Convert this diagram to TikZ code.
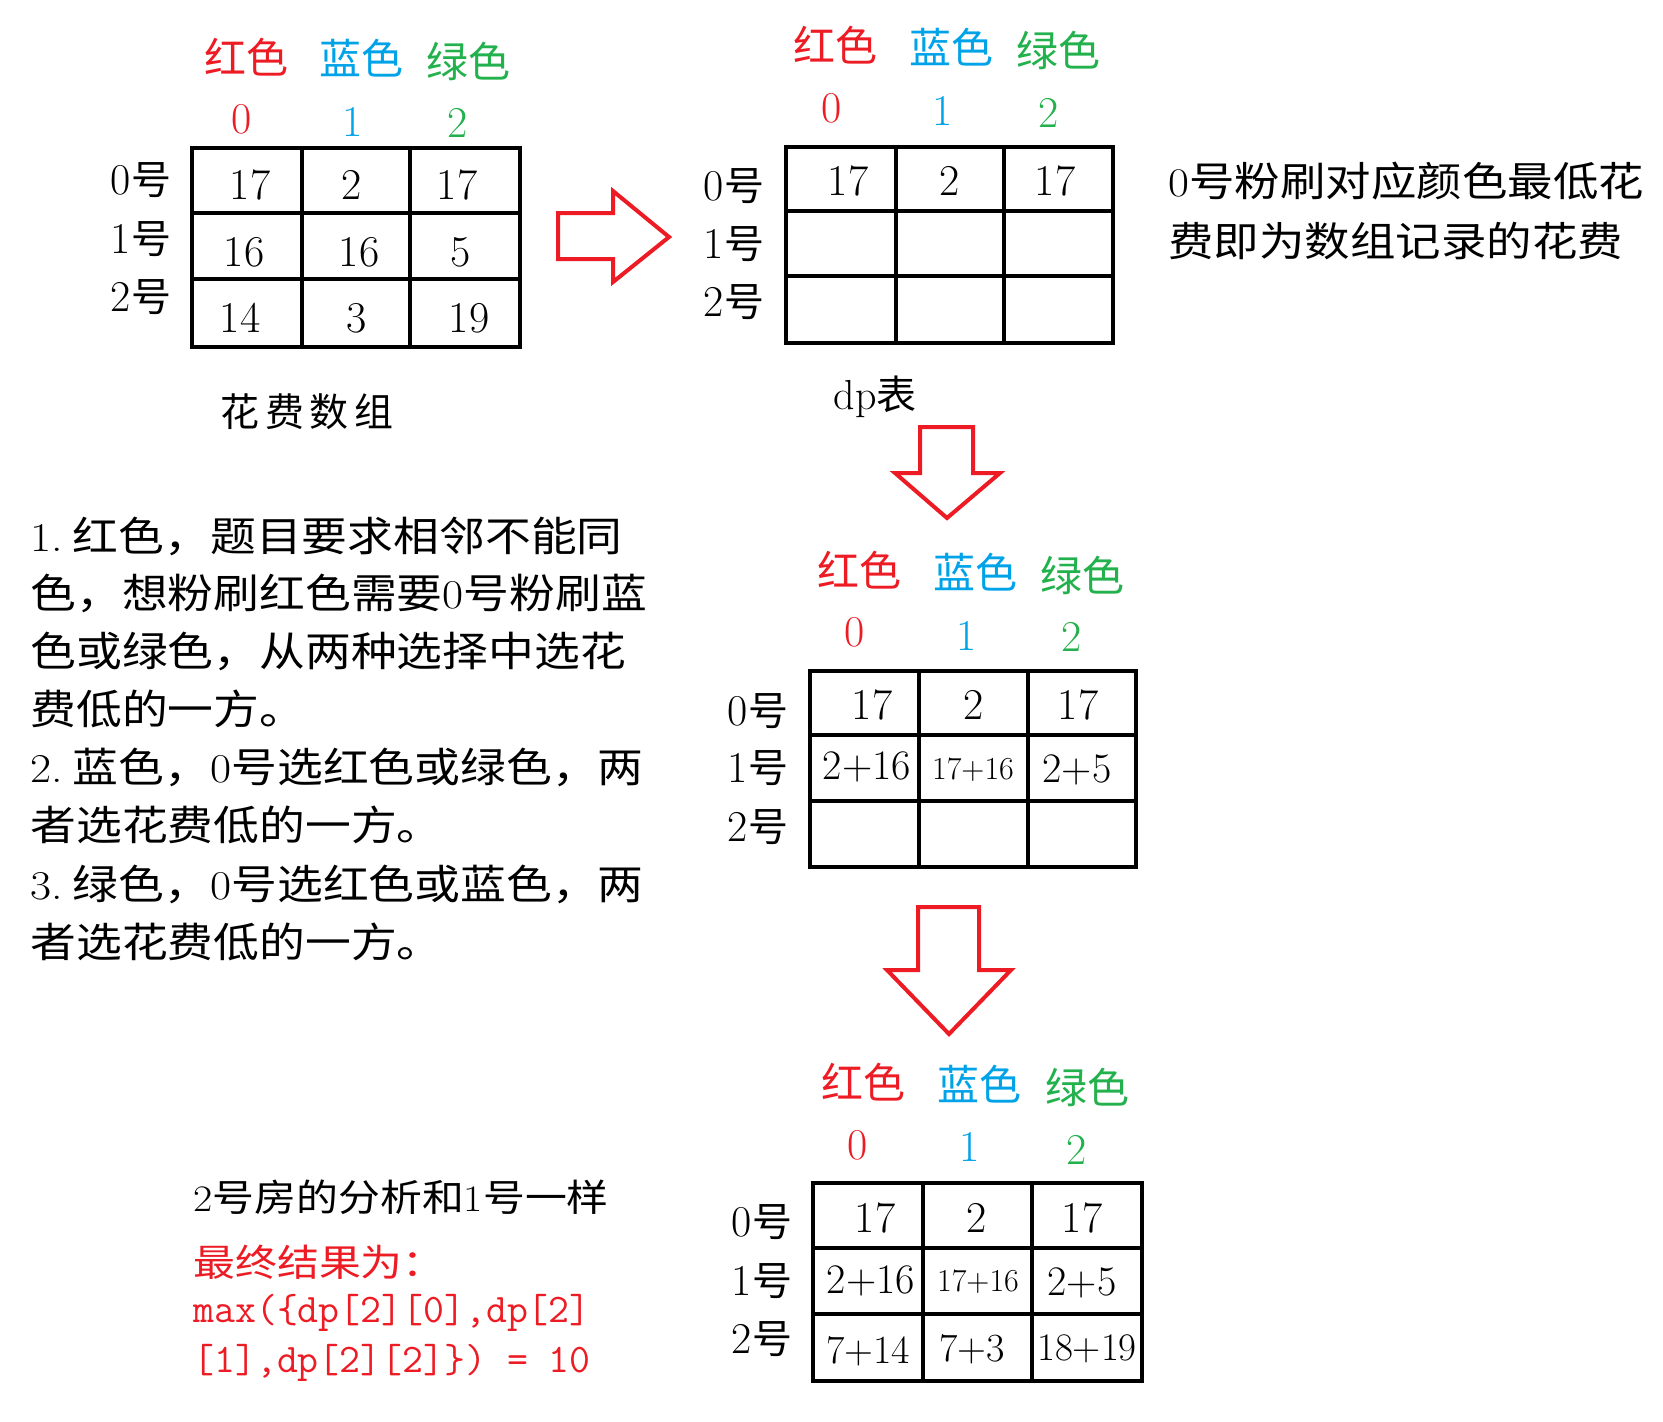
\documentclass[tikz,border=0pt]{standalone}
\usepackage{fontspec}
\usepackage{graphicx}
\newfontfamily\cjk{Noto Sans CJK SC}
\newfontfamily\cjkw[LetterSpace=14]{Noto Sans CJK SC}
\definecolor{cred}{RGB}{237,28,36}
\definecolor{cblue}{RGB}{0,162,232}
\definecolor{cgreen}{RGB}{34,177,76}
\newcommand\lm[1]{{\rmfamily #1}}
\newcommand\sx[1]{\scalebox{1.12}[1]{#1}}
\newcommand\hao[1]{{\rmfamily\fontsize{22pt}{24pt}\selectfont #1}{\cjk\fontsize{20pt}{24pt}\selectfont 号}}
\tikzset{
  tbl/.style={line width=2.2pt},
  blockarrow/.style={draw=cred, line width=2pt, fill=white, line join=miter},
  hdr/.style={inner sep=0pt, font=\cjk\fontsize{21pt}{24pt}\selectfont},
  idx/.style={inner sep=0pt, font=\rmfamily\fontsize{22pt}{24pt}\selectfont},
  val/.style={inner sep=0pt, font=\rmfamily\fontsize{22pt}{24pt}\selectfont},
  bval/.style={inner sep=0pt, font=\rmfamily\fontsize{21pt}{24pt}\selectfont},
  sval/.style={inner sep=0pt, font=\rmfamily\fontsize{20pt}{24pt}\selectfont},
  xval/.style={inner sep=0pt, font=\rmfamily\fontsize{19.5pt}{22pt}\selectfont},
  tval/.style={inner sep=0pt, font=\rmfamily\fontsize{16pt}{18pt}\selectfont},
  rowlab/.style={inner sep=0pt},
  para/.style={inner sep=0pt, anchor=west, font=\cjk\fontsize{20.45pt}{24pt}\selectfont},
  wide/.style={inner sep=0pt, anchor=west, font=\cjk\fontsize{20.3pt}{24pt}\selectfont},
  btxt/.style={inner sep=0pt, anchor=west, font=\cjk\fontsize{18.7pt}{24pt}\selectfont},
  code/.style={inner sep=0pt, anchor=west, text=cred, font=\ttfamily\fontsize{20.3pt}{22pt}\selectfont},
}
\begin{document}
\begin{tikzpicture}[x=0.5pt,y=-0.5pt]
\useasboundingbox[fill=white] (0,0) rectangle (1663,1421);

% ---------- Table 1: cost array ----------
\node[hdr,text=cred]   (t1hr) at (246,57) {红色};
\node[hdr,text=cblue]  (t1hb) at (361,58) {蓝色};
\node[hdr,text=cgreen] (t1hg) at (468,61) {绿色};
\node[idx,text=cred]   (t1ir) at (242,119) {0};
\node[idx,text=cblue]  (t1ib) at (353,122) {1};
\node[idx,text=cgreen] (t1ig) at (458,123) {2};
\draw[tbl] (192,148) rectangle (520,347);
\draw[tbl] (302,148) -- (302,347) (410,148) -- (410,347) (192,213) -- (520,213) (192,279) -- (520,279);
\node[rowlab] (t1r0) at (141,180) {\hao{0}};
\node[rowlab] (t1r1) at (141,239) {\hao{1}};
\node[rowlab] (t1r2) at (141,297) {\hao{2}};
\node[val] (t1a) at (250,185) {17};
\node[val] (t1b) at (352,185) {2};
\node[val] (t1c) at (457,185) {17};
\node[val] (t1d) at (244,252) {16};
\node[val] (t1e) at (359,252) {16};
\node[val] (t1f) at (461,252) {5};
\node[val] (t1g) at (240,318) {14};
\node[val] (t1h) at (357,318) {3};
\node[val] (t1i) at (469,318) {19};
\node[inner sep=0pt, font=\cjkw\fontsize{19.5pt}{22pt}\selectfont] (t1cap) at (307,412) {花费数组};

% ---------- right arrow ----------
\draw[blockarrow] (558,213) -- (613,213) -- (613,191) -- (669,237) -- (613,282) -- (613,259) -- (558,259) -- cycle;

% ---------- Table 2: dp initial ----------
\node[hdr,text=cred]   (t2hr) at (835,45) {红色};
\node[hdr,text=cblue]  (t2hb) at (951,47) {蓝色};
\node[hdr,text=cgreen] (t2hg) at (1058,50) {绿色};
\node[idx,text=cred]   (t2ir) at (832,108) {0};
\node[idx,text=cblue]  (t2ib) at (943,111) {1};
\node[idx,text=cgreen] (t2ig) at (1049,113) {2};
\draw[tbl] (786,147) rectangle (1113,343);
\draw[tbl] (896,147) -- (896,343) (1004,147) -- (1004,343) (786,211) -- (1113,211) (786,276) -- (1113,276);
\node[rowlab] (t2r0) at (734,186) {\hao{0}};
\node[rowlab] (t2r1) at (734,244) {\hao{1}};
\node[rowlab] (t2r2) at (734,302) {\hao{2}};
\node[val] (t2a) at (848,181) {17};
\node[val] (t2b) at (950,181) {2};
\node[val] (t2c) at (1055,181) {17};
\node[inner sep=0pt] (t2cap) at (875,397) {{\rmfamily\fontsize{21pt}{24pt}\selectfont dp}{\cjk\fontsize{20pt}{24pt}\selectfont 表}};

\node[wide] (note1) at (1168,181) {\sx{\lm{0}号粉刷对应颜色最低花}};
\node[wide] (note2) at (1168,241) {\sx{费即为数组记录的花费}};

% ---------- down arrow 1 ----------
\draw[blockarrow] (920,427) -- (973,427) -- (973,473) -- (1000,473) -- (947,518) -- (895,473) -- (920,473) -- cycle;

% ---------- Table 3 ----------
\node[hdr,text=cred]   (t3hr) at (859,570) {红色};
\node[hdr,text=cblue]  (t3hb) at (975,572) {蓝色};
\node[hdr,text=cgreen] (t3hg) at (1082,575) {绿色};
\node[idx,text=cred]   (t3ir) at (855,632) {0};
\node[idx,text=cblue]  (t3ib) at (967,636) {1};
\node[idx,text=cgreen] (t3ig) at (1072,637) {2};
\draw[tbl] (810,671) rectangle (1136,867);
\draw[tbl] (919,671) -- (919,867) (1028,671) -- (1028,867) (810,735) -- (1136,735) (810,801) -- (1136,801);
\node[rowlab] (t3r0) at (758,711) {\hao{0}};
\node[rowlab] (t3r1) at (758,768) {\hao{1}};
\node[rowlab] (t3r2) at (758,827) {\hao{2}};
\node[val] (t3a) at (872,705) {17};
\node[val] (t3b) at (974,705) {2};
\node[val] (t3c) at (1078,705) {17};
\node[bval] (t3d) at (867,767) {2+16};
\node[tval] (t3e) at (973,770) {17+16};
\node[bval] (t3f) at (1077,770) {2+5};

% ---------- left explanation ----------
\node[para] (p1) at (30,536) {\sx{\lm{1.}\kern0.22em 红色，题目要求相邻不能同}};
\node[para] (p2) at (30,593) {\sx{色，想粉刷红色需要\lm{0}号粉刷蓝}};
\node[para] (p3) at (30,651) {\sx{色或绿色，从两种选择中选花}};
\node[para] (p4) at (30,709) {\sx{费低的一方。}};
\node[para] (p5) at (30,767) {\sx{\lm{2.}\kern0.22em 蓝色，\lm{0}号选红色或绿色，两}};
\node[para] (p6) at (30,825) {\sx{者选花费低的一方。}};
\node[para] (p7) at (30,884) {\sx{\lm{3.}\kern0.22em 绿色，\lm{0}号选红色或蓝色，两}};
\node[para] (p8) at (30,942) {\sx{者选花费低的一方。}};

% ---------- down arrow 2 ----------
\draw[blockarrow] (918,907) -- (979,907) -- (979,970) -- (1011,970) -- (949,1034) -- (887,970) -- (918,970) -- cycle;

% ---------- Table 4 ----------
\node[hdr,text=cred]   (t4hr) at (863,1082) {红色};
\node[hdr,text=cblue]  (t4hb) at (979,1084) {蓝色};
\node[hdr,text=cgreen] (t4hg) at (1087,1087) {绿色};
\node[idx,text=cred]   (t4ir) at (858,1145) {0};
\node[idx,text=cblue]  (t4ib) at (970,1147) {1};
\node[idx,text=cgreen] (t4ig) at (1077,1150) {2};
\draw[tbl] (813,1183) rectangle (1142,1381);
\draw[tbl] (923,1183) -- (923,1381) (1032,1183) -- (1032,1381) (813,1248) -- (1142,1248) (813,1314) -- (1142,1314);
\node[rowlab] (t4r0) at (762,1222) {\hao{0}};
\node[rowlab] (t4r1) at (762,1281) {\hao{1}};
\node[rowlab] (t4r2) at (762,1339) {\hao{2}};
\node[val] (t4a) at (875,1218) {17};
\node[val] (t4b) at (977,1218) {2};
\node[val] (t4c) at (1082,1218) {17};
\node[bval] (t4d) at (871,1281) {2+16};
\node[tval] (t4e) at (978,1282) {17+16};
\node[bval] (t4f) at (1082,1283) {2+5};
\node[sval] (t4g) at (868,1351) {7+14};
\node[sval] (t4h) at (972,1349) {7+3};
\node[xval] (t4i) at (1087,1349) {18+19};

% ---------- bottom-left text ----------
\node[btxt] (b1) at (193,1197) {\sx{\lm{2}号房的分析和\lm{1}号一样}};
\node[btxt,text=cred] (b2) at (193,1262) {\sx{最终结果为：}};
\node[code] (b3) at (193,1313) {max(\{dp[2][0],dp[2]};
\node[code] (b4) at (193,1363) {[1],dp[2][2]\}) = 10};
\end{tikzpicture}
\end{document}
